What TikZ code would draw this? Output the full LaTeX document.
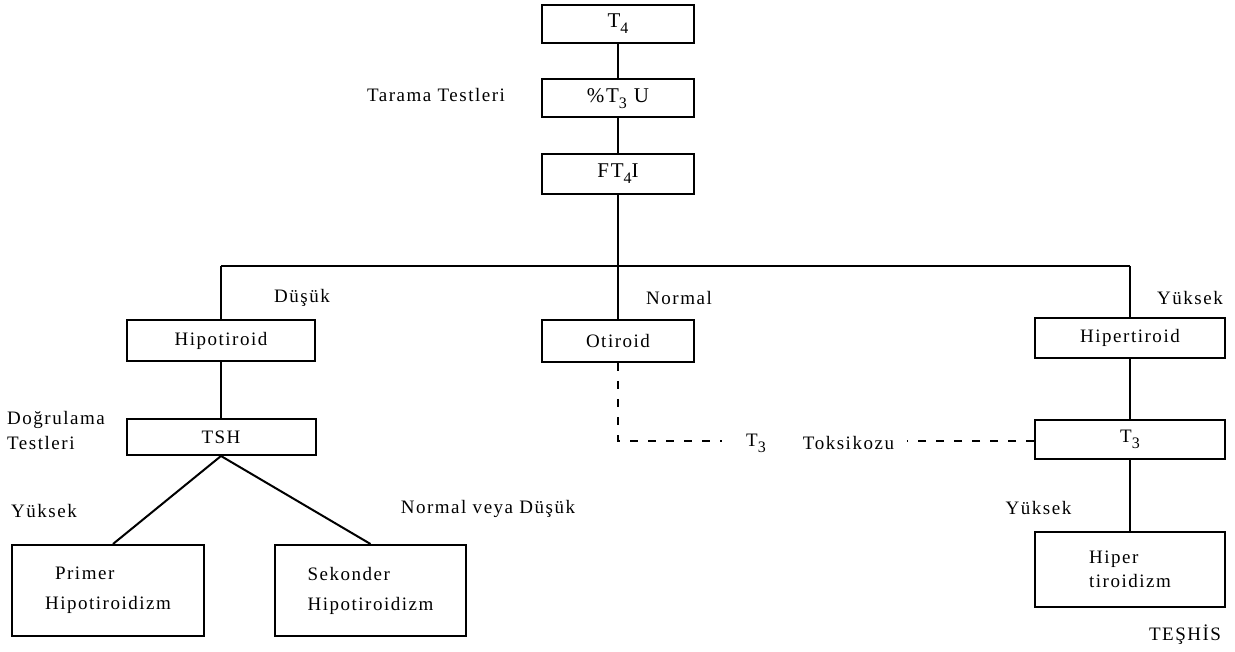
\documentclass[tikz,border=0pt]{standalone}
\usepackage{fontspec}
\setmainfont{Liberation Serif}[LetterSpace=8]
\usetikzlibrary{calc}
\newcommand{\sbs}[1]{\raisebox{-6pt}{\fontsize{16}{16}\selectfont #1}}
\tikzset{
  box/.style={draw, line width=2pt, inner sep=0pt, font=\fontsize{19}{26}\selectfont},
  topbox/.style={box, minimum width=152pt, minimum height=38pt, font=\fontsize{21}{24}\selectfont},
  lab/.style={inner sep=0pt, font=\fontsize{19}{22}\selectfont},
  conn/.style={line width=2pt},
  dsh/.style={line width=2pt, dash pattern=on 8pt off 10pt}
}
\begin{document}
\begin{tikzpicture}[x=1pt,y=-1pt]
\useasboundingbox (0,0) rectangle (1235,652);
% top chain
\node[topbox] (t4) at (618,24) {T\sbs{4}};
\node[topbox] (t3u) at (618,98.5) {\%T\sbs{3} U};
\node[topbox, minimum height=40pt] (ft4i) at (618,174) {FT\sbs{4}I};
\node[lab] (tarama) at (436,95) {Tarama Testleri};
% bus
\coordinate (bl) at (221,266);
\coordinate (bm) at (618,266);
\coordinate (br) at (1130,266);
% second level
\node[box, minimum width=188pt, minimum height=41pt] (hipo) at (221,340.5) {Hipotiroid};
\node[box, minimum width=152pt, minimum height=42pt] (oti) at (618,341) {Otiroid};
\node[box, minimum width=190pt, minimum height=40pt] (hiper) at (1130,338) {Hipertiroid};
\node[lab] (dusuk) at (302,298) {Düşük};
\node[lab] (normal) at (679,298) {Normal};
\node[lab] (yuk1) at (1190,298) {Yüksek};
% third level
\node[box, minimum width=189pt, minimum height=36pt] (tsh) at (221,437) {TSH};
\node[lab, align=left, anchor=west, font=\fontsize{19}{25}\selectfont] (dog) at (7,430.5) {Doğrulama\\Testleri};
\node[box, minimum width=190pt, minimum height=39pt] (t3b) at (1130,439.5) {T\sbs{3}};
\node[lab] (tt) at (756,443) {T\sbs{3}};
\node[lab] (tox) at (848.5,443) {Toksikozu};
% bottom level
\node[box, minimum width=192pt, minimum height=91pt, align=left, font=\fontsize{19}{30}\selectfont] (primer) at (108,590.5) {\hspace*{10pt}Primer\\Hipotiroidizm};
\node[box, minimum width=191pt, minimum height=91pt, align=left, font=\fontsize{19}{30}\selectfont] (sek) at (370.5,590.5) {Sekonder\\Hipotiroidizm};
\node[box, minimum width=190pt, minimum height=75pt, align=left, font=\fontsize{19}{24}\selectfont] (hip2) at (1130,569.5) {Hiper\\tiroidizm};
\node[lab] (yuk2) at (44,511) {Yüksek};
\node[lab] (nvd) at (488,509) {Normal veya Düşük};
\node[lab] (yuk3) at (1038.5,508) {Yüksek};
\node[lab] (teshis) at (1185,635) {TEŞHİS};
% connectors
\draw[conn] (t4) -- (t3u);
\draw[conn] (t3u) -- (ft4i);
\draw[conn] (ft4i.south) -- (bm);
\draw[conn] (bl) -- (br);
\draw[conn] (bl) -- (hipo.north);
\draw[conn] (bm) -- (oti.north);
\draw[conn] (br) -- (hiper.north);
\draw[conn] (hipo) -- (tsh);
\draw[conn] (hiper) -- (t3b);
\draw[conn] (t3b) -- (hip2);
\draw[conn] (tsh.south) -- ($(primer.north)+(5,0)$);
\draw[conn] (tsh.south) -- (sek.north);
% dashed
\coordinate (d1) at (618,441);
\coordinate (d2) at (722,441);
\coordinate (d3) at (907,441);
\draw[dsh] (oti.south) -- (d1) -- (d2);
\draw[dsh] (t3b.west |- d1) -- (d3);
\end{tikzpicture}
\end{document}
